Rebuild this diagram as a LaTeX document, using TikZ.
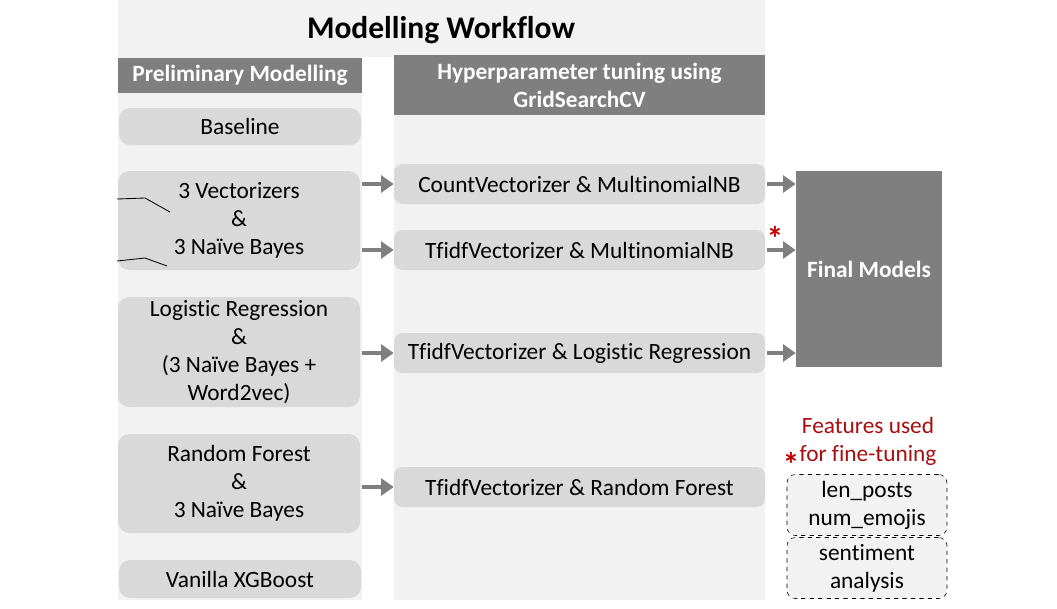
\documentclass[tikz,border=0pt]{standalone}
\usepackage{fontspec}
\setmainfont{Carlito}[Ligatures={NoCommon}]
\usepackage{tikz}
\usetikzlibrary{arrows.meta,positioning}

\definecolor{panelgray}{HTML}{F2F2F2}
\definecolor{boxgray}{HTML}{D9D9D9}
\definecolor{headgray}{HTML}{7F7F7F}
\definecolor{darkred}{HTML}{A50F0F}
\definecolor{starred}{HTML}{C00000}

\tikzset{
  prelim/.style={fill=boxgray, rounded corners=8pt, minimum width=242*0.025cm, align=center,
    font=\fontsize{16.6}{20}\selectfont, inner sep=0pt},
  tune/.style={fill=boxgray, rounded corners=6pt, minimum width=371*0.025cm, minimum height=40*0.025cm,
    align=center, font=\fontsize{16.6}{20}\selectfont, inner sep=0pt},
  head/.style={fill=headgray, text=white, align=center, inner sep=0pt,
    font=\bfseries\fontsize{16.6}{20}\selectfont},
  feat/.style={draw, dashed, fill=panelgray, rounded corners=6pt, minimum width=160*0.025cm,
    minimum height=61*0.025cm, align=center, font=\fontsize{16.6}{20}\selectfont, inner sep=0pt},
  flow/.style={draw=headgray, line width=3.5pt, -{Triangle[length=9pt,width=12pt]}, shorten <=1pt},
  star/.style={text=starred, font=\bfseries\fontsize{24}{24}\selectfont, inner sep=0pt}
}

\begin{document}
\begin{tikzpicture}[x=0.025cm,y=-0.025cm]
\useasboundingbox (0,0) rectangle (1057,608);

% panels
\fill[panelgray] (118,0) rectangle (765,57);
\fill[panelgray] (118,57) rectangle (362,600);
\fill[panelgray] (394,55) rectangle (765,600);

\node (title) at (441,30) {\bfseries\fontsize{22.4}{24}\selectfont Modelling Workflow};

% column heads
\node[head, minimum width=244*0.025cm, minimum height=35*0.025cm] (prehead) at (240,75.5) {Preliminary Modelling};
\node[head, minimum width=371*0.025cm, minimum height=60*0.025cm] (tunehead) at (579.5,85) {Hyperparameter tuning using\\GridSearchCV};

% preliminary models
\node[prelim, minimum height=37*0.025cm] (base) at (240,126.5) {Baseline};
\node[prelim, minimum height=99*0.025cm] (vecnb) at (239,220.5) {3 Vectorizers\\\&\\3 Naïve Bayes};
\node[prelim, minimum height=110*0.025cm] (logreg) at (239,352) {Logistic Regression\\\&\\(3 Naïve Bayes +\\Word2vec)};
\node[prelim, minimum height=99*0.025cm] (rf) at (239,483.5) {Random Forest\\\&\\3 Naïve Bayes};
\node[prelim, minimum height=38*0.025cm] (xgb) at (240,579) {Vanilla XGBoost};

% tuned models
\node[tune] (cvnb) at (579.5,184) {CountVectorizer \& MultinomialNB};
\node[tune] (tfnb) at (579.5,250) {TfidfVectorizer \& MultinomialNB};
\node[tune] (tflr) at (579.5,353) {TfidfVectorizer \& Logistic Regression};
\node[tune] (tfrf) at (579.5,487) {TfidfVectorizer \& Random Forest};

\node[head, minimum width=146*0.025cm, minimum height=196*0.025cm] (final) at (869,269) {Final Models};

% arrows
\draw[flow] (vecnb.east |- cvnb) -- (cvnb.west);
\draw[flow] (vecnb.east |- tfnb) -- (tfnb.west);
\draw[flow] (logreg.east |- tflr) -- (tflr.west);
\draw[flow] (rf.east |- tfrf) -- (tfrf.west);
\draw[flow] (cvnb.east) -- (final.west |- cvnb);
\draw[flow] (tfnb.east) -- (final.west |- tfnb);
\draw[flow] (tflr.east) -- (final.west |- tflr);

\node[star] (star1) at (775,238) {*};

% features
\node[text=darkred, align=center, font=\fontsize{16.6}{20}\selectfont] (featnote) at (868,441) {Features used\\for fine-tuning};
\node[star] (star2) at (791,464) {*};
\node[feat] (featA) at (867,505) {len\_posts\\num\_emojis};
\node[feat] (featB) at (867,568) {sentiment\\analysis};

% stray strokes
\draw[line width=0.6pt] (117,199) -- (145,198) -- (170,212);
\draw[line width=0.6pt] (117,261) -- (145,258) -- (167,266);
\end{tikzpicture}
\end{document}
